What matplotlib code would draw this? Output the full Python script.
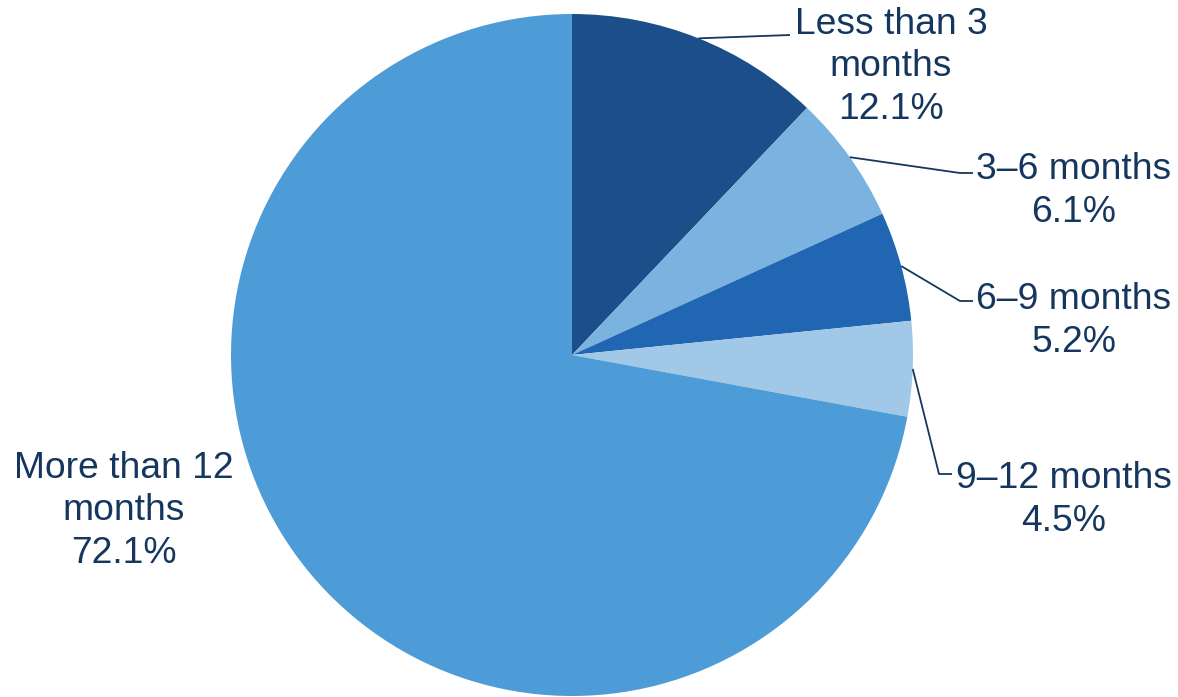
import numpy as np
import matplotlib.pyplot as plt

plt.rcParams['font.family'] = ['Liberation Sans', 'DejaVu Sans']

# Data
labels = ['Less than 3\nmonths', '3\u20136 months', '6\u20139 months',
          '9\u201312 months', 'More than 12\nmonths']
shares = [12.1, 6.1, 5.2, 4.5, 72.1]
colors = ['#1c4e89', '#7ab3df', '#2166b3', '#a2c8e8', '#4e9cd7']

txt_col = '#15375f'

# Layout (pixel space, y up)
W, H = 1178, 697
cx, cy, R = 572, H - 355, 341

# label centre positions and leader elbow points (None = no leader)
label_pos = [(891, H - 67), (1074, H - 191), (1074, H - 321),
             (1064, H - 500), (124, H - 511)]
elbows = [[(790, H - 35)],
          [(960, H - 173), (973, H - 173)],
          [(960, H - 301), (973, H - 301)],
          [(939, H - 474), (952, H - 474)],
          None]

fig = plt.figure(figsize=(W / 100, H / 100), dpi=100)
ax = fig.add_axes([0, 0, 1, 1])

wedges, _ = ax.pie(shares, colors=colors, startangle=90, counterclock=False,
                   center=(cx, cy), radius=R, frame=True,
                   wedgeprops=dict(linewidth=0))
ax.set_xlim(0, W)
ax.set_ylim(0, H)
ax.axis('off')

for w, lab, val, pos, elb in zip(wedges, labels, shares, label_pos, elbows):
    ax.text(pos[0], pos[1], '%s\n%.1f%%' % (lab, val), ha='center', va='center',
            fontsize=26.8, color=txt_col, linespacing=1.26)
    if elb is None:
        continue
    mid = np.deg2rad((w.theta1 + w.theta2) / 2)
    start = (cx + R * np.cos(mid), cy + R * np.sin(mid))
    pts = [start] + elb
    ax.plot([p[0] for p in pts], [p[1] for p in pts], color=txt_col, lw=1.3,
            solid_capstyle='butt')

fig.savefig('out.png', dpi=100)
